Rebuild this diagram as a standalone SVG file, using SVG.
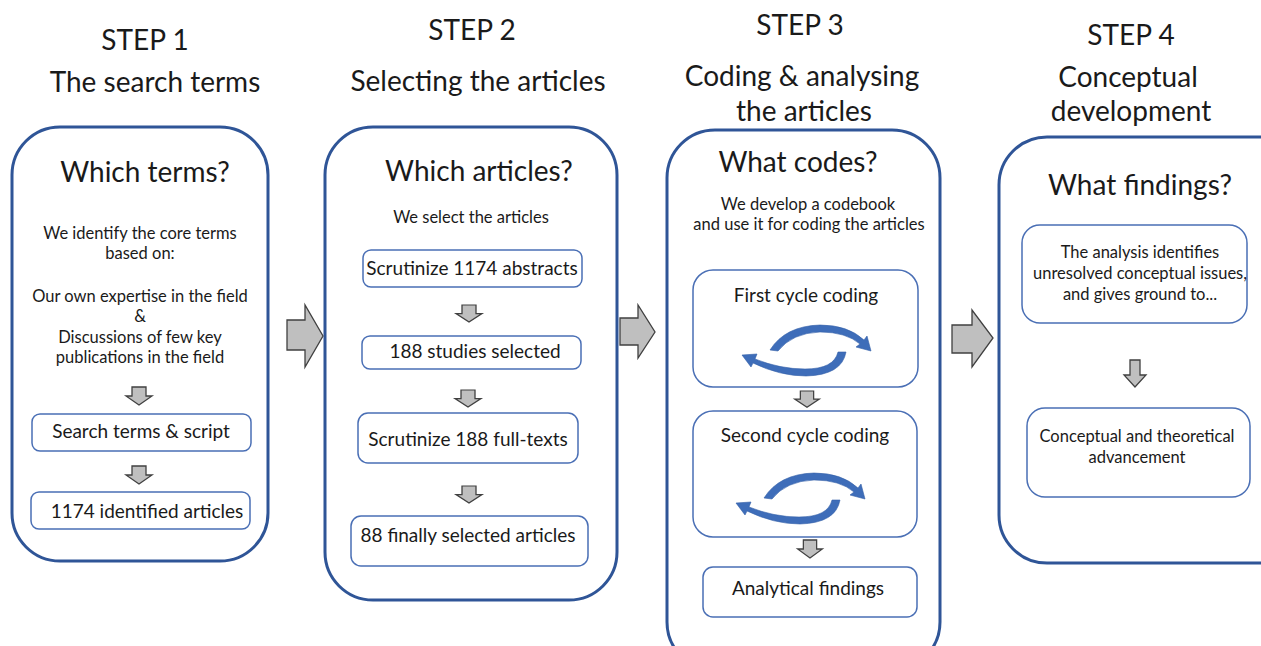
<svg xmlns="http://www.w3.org/2000/svg" width="1261" height="646" viewBox="0 0 1261 646">
<style>
text{font-family:Lato,"Open Sans","Liberation Sans",sans-serif;fill:#1a1a1a;text-anchor:middle}
.hd{font-size:28px}
.q{font-size:28px}
.t{font-size:16.5px}
.b{font-size:19px}
.panel{fill:#fff;stroke:#2F5597;stroke-width:3}
.box{fill:#fff;stroke:#4A6FB5;stroke-width:1.5}
.blk{fill:#BFBFBF;stroke:#404040;stroke-width:1.3;stroke-linejoin:miter}
.cyc{fill:#3E6DB9;stroke:#345FA8;stroke-width:0.6}
</style>
<defs>
<path id="da" d="M-7,0 H7 V9 H13 L0,18 L-13,9 H-7 Z"/>
<g id="cycle">
<path class="cyc" d="M770,350 Q785,326 820,325 Q848,325 864,340 L867,336 L871,351 L856,347 L860,344 Q846,332 820,332 Q792,333 778,351 Z"/>
<path class="cyc" d="M838,352 Q834,369 805,369 Q780,369 755,359 L757,354 L742,355 L751,367 L753,363 Q780,376 806,376 Q842,375 846,352 Z"/>
</g>
</defs>
<rect width="1261" height="646" fill="#fff"/>

<g id="headers">
<text class="hd" x="145" y="50">STEP 1</text>
<text class="hd" x="155" y="92">The search terms</text>
<text class="hd" x="472" y="40">STEP 2</text>
<text class="hd" x="478" y="91">Selecting the articles</text>
<text class="hd" x="800" y="35">STEP 3</text>
<text class="hd" x="802" y="86">Coding &amp; analysing</text>
<text class="hd" x="804" y="121">the articles</text>
<text class="hd" x="1131" y="45">STEP 4</text>
<text class="hd" x="1128" y="87">Conceptual</text>
<text class="hd" x="1131" y="121">development</text>
</g>

<g id="step1">
<rect class="panel" x="12" y="127" width="256" height="434" rx="48"/>
<text class="q" x="145" y="182">Which terms?</text>
<text class="t" x="140" y="239">We identify the core terms</text>
<text class="t" x="140" y="259">based on:</text>
<text class="t" x="140" y="302">Our own expertise in the field</text>
<text class="t" x="140" y="322">&amp;</text>
<text class="t" x="140" y="343">Discussions of few key</text>
<text class="t" x="140" y="363">publications in the field</text>
<g id="s1a">
<rect class="box" x="32" y="414" width="219" height="37" rx="8"/>
<text class="b" x="141" y="438">Search terms &amp; script</text>
</g>
<g id="s1b">
<rect class="box" x="31" y="492" width="219" height="37" rx="8"/>
<text class="b" x="147" y="518">1174 identified articles</text>
</g>
</g>

<g id="step2">
<rect class="panel" x="325" y="127" width="292" height="473" rx="48"/>
<text class="q" x="479" y="181">Which articles?</text>
<text class="t" x="471" y="223">We select the articles</text>
<g id="s2a">
<rect class="box" x="363" y="250" width="219" height="37" rx="8"/>
<text class="b" x="472" y="275">Scrutinize 1174 abstracts</text>
</g>
<g id="s2b">
<rect class="box" x="362" y="336" width="219" height="33" rx="8"/>
<text class="b" x="475" y="358">188 studies selected</text>
</g>
<g id="s2c">
<rect class="box" x="358" y="413" width="220" height="50" rx="10"/>
<text class="b" x="468" y="446">Scrutinize 188 full-texts</text>
</g>
<g id="s2d">
<rect class="box" x="351" y="516" width="237" height="50" rx="10"/>
<text class="b" x="468" y="542">88 finally selected articles</text>
</g>
</g>

<g id="step3">
<rect class="panel" x="667" y="130" width="273" height="540" rx="48"/>
<text class="q" x="798" y="172">What codes?</text>
<text class="t" x="808" y="210">We develop a codebook</text>
<text class="t" x="809" y="230">and use it for coding the articles</text>
<g id="s3a">
<rect class="box" x="693" y="270" width="225" height="117" rx="20"/>
<text class="b" x="806" y="302">First cycle coding</text>
<use href="#cycle"/>
</g>
<g id="s3b">
<rect class="box" x="693" y="411" width="224" height="126" rx="20"/>
<text class="b" x="805" y="442">Second cycle coding</text>
<use href="#cycle" transform="translate(-6,148)"/>
</g>
<g id="s3c">
<rect class="box" x="703" y="567" width="214" height="50" rx="10"/>
<text class="b" x="808" y="595">Analytical findings</text>
</g>
</g>

<g id="step4">
<rect class="panel" x="999" y="137" width="320" height="426" rx="48"/>
<text class="q" x="1140" y="195">What findings?</text>
<g id="s4a">
<rect class="box" x="1022" y="225" width="225" height="98" rx="18"/>
<text class="t" x="1140" y="258">The analysis identifies</text>
<text class="t" x="1140" y="279">unresolved conceptual issues,</text>
<text class="t" x="1140" y="300">and gives ground to...</text>
</g>
<g id="s4b">
<rect class="box" x="1027" y="408" width="223" height="89" rx="18"/>
<text class="t" x="1137" y="442">Conceptual and theoretical</text>
<text class="t" x="1137" y="463">advancement</text>
</g>
</g>

<g id="connectors">
<path class="blk" d="M287,320 H305 V305 L323,336 L305,367 V350 H287 Z"/>
<path class="blk" d="M620,318 H638 V305 L655,332 L638,358 V345 H620 Z"/>
<path class="blk" d="M952,325 H972 V310 L993,338 L972,367 V353 H952 Z"/>
<use href="#da" class="blk" transform="translate(139,387)"/>
<use href="#da" class="blk" transform="translate(139,466)"/>
<use href="#da" class="blk" transform="translate(469,305) scale(1,0.95)"/>
<use href="#da" class="blk" transform="translate(468,390) scale(1,0.95)"/>
<use href="#da" class="blk" transform="translate(469,486) scale(1,0.95)"/>
<use href="#da" class="blk" transform="translate(807,391) scale(0.95,0.9)"/>
<use href="#da" class="blk" transform="translate(810,540) scale(0.95,1)"/>
<path class="blk" d="M1130,360 H1140 V375 H1146 L1135,387 L1124,375 H1130 Z"/>
</g>
</svg>
